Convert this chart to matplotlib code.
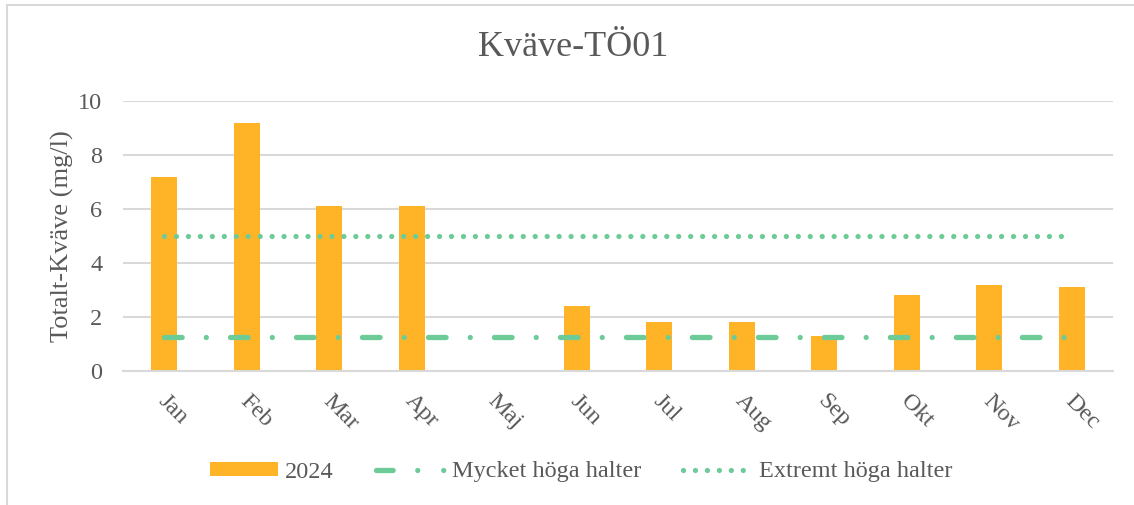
import matplotlib
matplotlib.use("Agg")
import matplotlib.pyplot as plt
from matplotlib.lines import Line2D
from matplotlib.transforms import ScaledTranslation

plt.rcParams['font.family'] = ['Liberation Serif', 'DejaVu Serif']
plt.rcParams['lines.scale_dashes'] = False

months = ["Jan", "Feb", "Mar", "Apr", "Maj", "Jun", "Jul", "Aug", "Sep", "Okt", "Nov", "Dec"]
values_2024 = [7.2, 9.2, 6.1, 6.1, None, 2.4, 1.8, 1.8, 1.3, 2.8, 3.2, 3.1]
mycket_hoga = [1.25] * 12
extremt_hoga = [5.0] * 12
yticks = [0, 2, 4, 6, 8, 10]

TXT = "#595959"
BAR = "#FFB428"
GREEN = "#6DCB98"
GRID = "#D9D9D9"
FS = 17.5

fig = plt.figure(figsize=(11.34, 5.05), dpi=100)
ax = fig.add_axes([123/1134, 1-371/505, (1113-123)/1134, 270/505])

x = list(range(len(months)))
bx = [i for i, v in zip(x, values_2024) if v is not None]
bv = [v for v in values_2024 if v is not None]
h_bar = ax.bar(bx, bv, width=0.31, color=BAR, zorder=2, label="2024")

lw = 3.8
ax.plot(x, mycket_hoga, color=GREEN, lw=lw, dashes=(12.7, 17.4, 0.01, 17.4),
        dash_capstyle='round', zorder=3)
ax.plot(x, extremt_hoga, color=GREEN, lw=lw, dashes=(0.01, 8.6),
        dash_capstyle='round', zorder=3)

# legend proxies (same styles, pattern fitted to the handle length)
h_m = Line2D([], [], color=GREEN, lw=lw, dashes=(12, 17.7, 0.01, 18.7, 0.01, 40),
             dash_capstyle='round')
h_e = Line2D([], [], color=GREEN, lw=lw, dashes=(0.01, 8.6), dash_capstyle='round')

ax.set_xlim(-0.5, 11.5)
ax.set_ylim(0, 10)
ax.set_yticks(yticks)
ax.set_yticklabels([str(t) for t in yticks], fontsize=FS, color=TXT)
ax.yaxis.grid(True, color=GRID, lw=1.5, zorder=0)
ax.set_axisbelow(True)
for s in ["top", "right", "left"]:
    ax.spines[s].set_visible(False)
ax.spines["bottom"].set_color(GRID)
ax.spines["bottom"].set_linewidth(1.5)
ax.tick_params(axis='both', length=0)
ax.tick_params(axis='y', pad=15)
ax.set_xticks(x)
ax.set_xticklabels(months, fontsize=FS, color=TXT, rotation=-45,
                   ha='left', va='top', rotation_mode='anchor')
ax.tick_params(axis='x', pad=14)
off = ScaledTranslation(3/72, 0, fig.dpi_scale_trans)
for lab in ax.get_xticklabels():
    lab.set_transform(lab.get_transform() + off)

ax.set_ylabel("Totalt-Kväve (mg/l)", fontsize=19, color=TXT, labelpad=3)

fig.text(0.505, 1-47/505, "Kväve-TÖ01", fontsize=26, color=TXT,
         ha='center', va='center')

leg = fig.legend([h_bar, h_m, h_e], ["2024", "Mycket höga halter", "Extremt höga halter"],
                 loc='center', bbox_to_anchor=(581/1134, 1-472/505),
                 ncol=3, frameon=False, fontsize=FS, handlelength=2.8,
                 handleheight=0.5, handletextpad=0.3, columnspacing=1.75,
                 labelcolor=TXT)

# chart border
fig.add_artist(Line2D([7/1134, 7/1134], [0, 1-5/505], transform=fig.transFigure,
                      color=GRID, lw=1.5))
fig.add_artist(Line2D([7/1134, 1], [1-5/505, 1-5/505], transform=fig.transFigure,
                      color=GRID, lw=1.5))

fig.savefig("out.png", dpi=100)
